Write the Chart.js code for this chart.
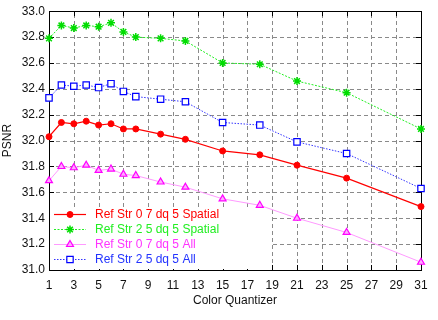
<!DOCTYPE html>
<html><head><meta charset="utf-8">
<script src="https://cdn.jsdelivr.net/npm/chart.js@4.4.0/dist/chart.umd.min.js"></script>
<style>html,body{margin:0;padding:0;background:#fff}#wrap{width:438px;height:320px}</style>
</head><body><div id="wrap"><canvas id="c" width="438" height="320"></canvas></div>
<script>
const quantizer = [1,2,3,4,5,6,7,8,10,12,15,18,21,25,31];
const seriesNames = ["Ref Str 0 7 dq 5 Spatial","Ref Str 2 5 dq 5 Spatial","Ref Str 0 7 dq 5 All","Ref Str 2 5 dq 5 All"];
const refStr07Spatial = [32.03,32.14,32.13,32.15,32.12,32.13,32.09,32.09,32.05,32.01,31.92,31.89,31.81,31.71,31.49];
const refStr25Spatial = [32.79,32.89,32.87,32.89,32.88,32.91,32.84,32.80,32.79,32.77,32.60,32.59,32.46,32.37,32.09];
const refStr07All     = [31.69,31.80,31.79,31.81,31.77,31.78,31.74,31.73,31.68,31.64,31.55,31.50,31.40,31.29,31.06];
const refStr25All     = [32.33,32.43,32.42,32.43,32.41,32.44,32.38,32.34,32.32,32.30,32.14,32.12,31.99,31.90,31.63];
const xTicks = [1,3,5,7,9,11,13,15,17,19,21,23,25,27,29,31];
const yTicks = [31.0,31.2,31.4,31.6,31.8,32.0,32.2,32.4,32.6,32.8,33.0];

const pts = v => quantizer.map((x,i)=>({x, y:v[i]}));
const FONT = "'Liberation Sans', Arial, sans-serif";

const datasets = [
  {label:seriesNames[0], data:pts(refStr07Spatial), borderColor:'#ff0000', backgroundColor:'#ff0000', borderWidth:1.2,
   pointStyle:'circle', pointRadius:3, pointBorderColor:'#ff0000', pointBackgroundColor:'#ff0000', pointBorderWidth:1, legText:'#ff0000', clip:false},
  {label:seriesNames[1], data:pts(refStr25Spatial), borderColor:'#22ee22', backgroundColor:'#22ee22', borderWidth:1, borderDash:[2,1.5],
   pointStyle:'star', pointRadius:4, pointBorderColor:'#00dd00', pointBackgroundColor:'#00dd00', pointBorderWidth:1.5, legText:'#22ee22', clip:false},
  {label:seriesNames[2], data:pts(refStr07All), borderColor:'#ff99ff', backgroundColor:'#ff99ff', borderWidth:1,
   pointStyle:'triangle', pointRadius:4, pointBorderColor:'#ff00ff', pointBackgroundColor:'#ffaaff', pointBorderWidth:1.2, legText:'#ff33ff', clip:false},
  {label:seriesNames[3], data:pts(refStr25All), borderColor:'#3333ff', backgroundColor:'#3333ff', borderWidth:1, borderDash:[1.5,1.5],
   pointStyle:'rect', pointRadius:4.5, pointBorderColor:'#0000ff', pointBackgroundColor:'#ffffff', pointBorderWidth:1.2, legText:'#2233ff', clip:false}
];

const framePlugin = {
  id:'frame',
  beforeDatasetsDraw(chart){
    const {ctx, chartArea:a, scales} = chart;
    ctx.save();
    ctx.strokeStyle='#8a8a8a'; ctx.lineWidth=1; ctx.setLineDash([4,3]);
    ctx.beginPath();
    xTicks.forEach(t=>{const px=Math.round(scales.x.getPixelForValue(t))+0.5;
      ctx.moveTo(px,a.bottom); ctx.lineTo(px,a.top);});
    yTicks.forEach(t=>{const py=Math.round(scales.y.getPixelForValue(t))+0.5;
      ctx.moveTo(a.left,py); ctx.lineTo(a.right,py);});
    ctx.stroke();
    ctx.strokeStyle='#000'; ctx.setLineDash([]);
    ctx.beginPath();
    xTicks.forEach(t=>{const px=Math.round(scales.x.getPixelForValue(t))+0.5;
      ctx.moveTo(px,a.bottom); ctx.lineTo(px,a.bottom-5); ctx.moveTo(px,a.top); ctx.lineTo(px,a.top+5);});
    yTicks.forEach(t=>{const py=Math.round(scales.y.getPixelForValue(t))+0.5;
      ctx.moveTo(a.left,py); ctx.lineTo(a.left+5,py); ctx.moveTo(a.right,py); ctx.lineTo(a.right-5,py);});
    ctx.stroke();
    ctx.strokeRect(Math.round(a.left)+0.5, Math.round(a.top)+0.5, Math.round(a.right-a.left), Math.round(a.bottom-a.top));
    ctx.fillStyle='#fff';
    ctx.fillRect(a.left+1, a.bottom-63, 222, 62);
    ctx.restore();
  },
  afterDatasetsDraw(chart){
    const {ctx, chartArea:a} = chart;
    ctx.save();
    ctx.font = "12px " + FONT;
    ctx.textBaseline='middle'; ctx.textAlign='left';
    chart.data.datasets.forEach((ds,i)=>{
      const y = a.bottom - 56 + i*15;
      const x0 = a.left + 5, x1 = a.left + 37, xm = (x0+x1)/2;
      ctx.strokeStyle = ds.borderColor; ctx.lineWidth = ds.borderWidth;
      ctx.setLineDash(ds.borderDash || []);
      ctx.beginPath(); ctx.moveTo(x0,y+0.5); ctx.lineTo(x1,y+0.5); ctx.stroke();
      ctx.setLineDash([]);
      ctx.strokeStyle = ds.pointBorderColor; ctx.fillStyle = ds.pointBackgroundColor;
      ctx.lineWidth = ds.pointBorderWidth;
      Chart.helpers.drawPoint(ctx, {pointStyle:ds.pointStyle, radius:ds.pointRadius, borderWidth:ds.pointBorderWidth, rotation:0},
        xm, y+0.5);
      ctx.fillStyle = ds.legText;
      ctx.fillText(ds.label, a.left + 46, y+1);
    });
    ctx.restore();
  }
};

new Chart(document.getElementById('c'), {
  type:'line',
  data:{datasets},
  plugins:[framePlugin],
  options:{
    responsive:false, animation:false, devicePixelRatio:1,
    layout:{padding:{left:0,right:17,top:10,bottom:0}},
    plugins:{legend:{display:false}, tooltip:{enabled:false}},
    elements:{line:{tension:0, fill:false}},
    scales:{
      x:{type:'linear', min:1, max:31,
        afterBuildTicks(s){ s.ticks = xTicks.map(v=>({value:v})); },
        afterFit(s){ s.height = 50; },
        grid:{display:false, drawTicks:false},
        border:{display:false},
        ticks:{color:'#111', padding:8, font:{family:FONT, size:12}, maxRotation:0, autoSkip:false},
        title:{display:true, text:'Color Quantizer', color:'#111', font:{family:FONT, size:12}, padding:{top:4,bottom:12}}
      },
      y:{min:31, max:33,
        afterBuildTicks(s){ s.ticks = yTicks.map(v=>({value:v})); },
        afterFit(s){ s.width = 49; },
        grid:{display:false, drawTicks:false},
        border:{display:false},
        ticks:{color:'#111', padding:4, font:{family:FONT, size:12}, autoSkip:false, callback:v=>v.toFixed(1)},
        title:{display:true, text:'PSNR', color:'#111', font:{family:FONT, size:12}, padding:{top:0,bottom:2}}
      }
    }
  }
});
</script></body></html>
